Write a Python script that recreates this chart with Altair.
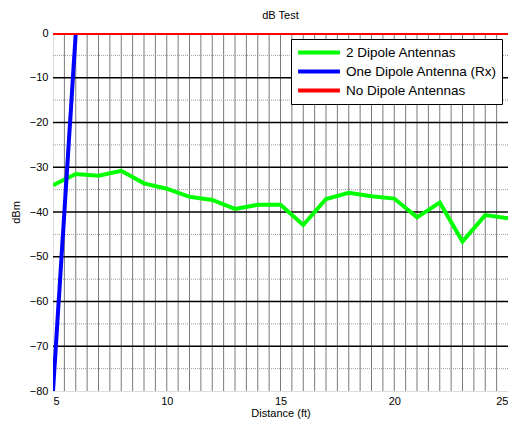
import altair as alt
import pandas as pd

distance = list(range(5, 26))
two_dipole = [-34.0, -31.5, -31.9, -30.8, -33.6, -34.8, -36.6, -37.3, -39.3, -38.4, -38.4,
              -42.9, -37.1, -35.7, -36.5, -37.0, -41.2, -37.9, -46.6, -40.7, -41.4]
one_x = [5, 6]
one_y = [-80, 0]
none_x = [5, 25]
none_y = [0, 0]
series_names = ["2 Dipole Antennas", "One Dipole Antenna (Rx)", "No Dipole Antennas"]
series_colors = ["#00ff00", "#0000ff", "#ff0000"]
x_ticks = [5, 10, 15, 20, 25]
y_ticks = [0, -10, -20, -30, -40, -50, -60, -70, -80]

rows = []
for d, v in zip(distance, two_dipole):
    rows.append({"x": d, "y": v, "s": series_names[0], "o": 0})
for d, v in zip(one_x, one_y):
    rows.append({"x": d, "y": v, "s": series_names[1], "o": 1})
for d, v in zip(none_x, none_y):
    rows.append({"x": d, "y": v, "s": series_names[2], "o": 2})
df = pd.DataFrame(rows)

vgrid = pd.DataFrame({"x": [5 + 0.5 * i for i in range(1, 40)]})
hmajor = pd.DataFrame({"y": [-10, -20, -30, -40, -50, -60, -70]})
hminor = pd.DataFrame({"y": [-5, -15, -25, -35, -45, -55, -65, -75]})

xs = alt.Scale(domain=[5, 25], nice=False, zero=False)
ys = alt.Scale(domain=[-80, 0], nice=False, zero=False)

font = "Liberation Sans"

vlines = alt.Chart(vgrid).mark_rule(color="#7a7a7a", strokeWidth=1).encode(
    x=alt.X("x:Q", scale=xs))
hmin = alt.Chart(hminor).mark_rule(color="#9a9a9a", strokeWidth=1, strokeDash=[1, 1]).encode(
    y=alt.Y("y:Q", scale=ys))
hmaj = alt.Chart(hmajor).mark_rule(color="#000000", strokeWidth=1.5).encode(
    y=alt.Y("y:Q", scale=ys))

lines = alt.Chart(df).mark_line(strokeWidth=4, clip=True).encode(
    x=alt.X("x:Q", scale=xs, title="Distance (ft)",
            axis=alt.Axis(values=x_ticks, grid=False, ticks=False,
                          domain=False, labelFont=font, labelFontSize=11, labelColor="black",
                          titleFont=font, titleFontSize=11, titleFontWeight="normal",
                          titleColor="black", labelPadding=4, titlePadding=1)),
    y=alt.Y("y:Q", scale=ys, title="dBm",
            axis=alt.Axis(values=y_ticks, grid=False, ticks=False,
                          domain=False, labelFont=font, labelFontSize=11, labelColor="black",
                          titleFont=font, titleFontSize=11, titleFontWeight="normal",
                          titleColor="black", labelPadding=5, titlePadding=8)),
    color=alt.Color("s:N", scale=alt.Scale(domain=series_names, range=series_colors),
                    legend=alt.Legend(title=None, orient="none", legendX=238, legendY=6,
                                      symbolType="stroke", symbolStrokeWidth=4, symbolSize=1750,
                                      clipHeight=17, rowPadding=2, labelOffset=4,
                                      labelFont=font, labelFontSize=13.5, labelColor="black",
                                      fillColor="white", strokeColor="black", padding=5,
                                      labelLimit=300)),
    order="o:Q",
    detail="s:N",
)

chart = alt.layer(vlines, hmin, hmaj, lines).properties(
    width=455, height=358,
    title=alt.Title("dB Test", font=font, fontSize=11, fontWeight="normal", color="black", offset=6),
    autosize=alt.AutoSizeParams(type="none"),
    padding={"left": 45, "top": 25, "right": 0, "bottom": 31},
).configure_view(stroke="black", strokeWidth=1.5).configure(background="white")

chart.save("out.html", embed_options={"renderer": "svg", "actions": False})
